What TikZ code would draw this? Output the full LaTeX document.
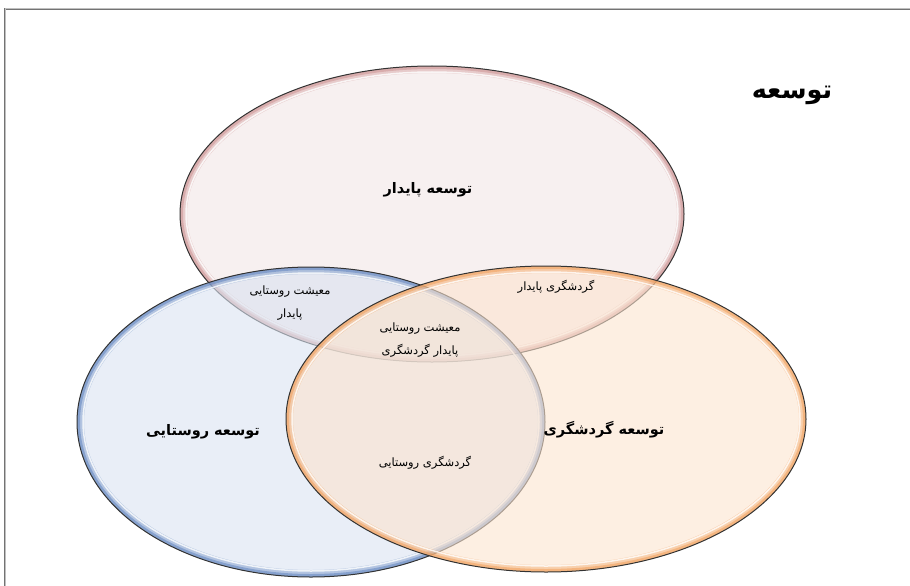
\documentclass[tikz,border=0pt]{standalone}
\usepackage{fontspec}
\usepackage{tikz}
\newfontfamily\arabicfont[Script=Arabic]{DejaVu Sans}
\TeXXeTstate=1
\definecolor{pinkfill}{RGB}{242,230,230}
\definecolor{bluefill}{RGB}{218,227,241}
\definecolor{orangefill}{RGB}{252,228,207}
\definecolor{pinkring}{RGB}{200,135,135}
\definecolor{bluering}{RGB}{80,120,185}
\definecolor{orangering}{RGB}{240,150,75}
\newcommand{\ar}[1]{\beginR #1\endR}

\begin{document}
\begin{tikzpicture}[
		x=1pt, y=-1pt,
		frame/.style = {draw=gray!90!black, double=gray!50, double distance=1pt, line width=.9pt},
		big/.style = {font=\arabicfont\bfseries\fontsize{14.5}{17}\selectfont},% set names
		small/.style = {font=\arabicfont\fontsize{11.5}{23.5}\selectfont, align=center},% overlaps
		]
		\useasboundingbox (0,0) rectangle (910,586);
		\draw[frame] (5,600) |- (920,9);
		% the three sets: centre / radii / colour
		\foreach \cx/\cy/\rx/\ry/\c in {432/214/252/148/pink, 311/422/234/155/blue, 546/419/260/153/orange}{
			\fill[\c fill, fill opacity=.6] (\cx,\cy) ellipse [x radius=\rx pt, y radius=\ry pt];
			\begin{scope}
				\clip (\cx,\cy) ellipse [x radius=\rx pt, y radius=\ry pt];
				\draw[\c ring, line width=14pt, opacity=.35] (\cx,\cy) ellipse [x radius=\rx pt, y radius=\ry pt];
				\draw[\c ring, line width=6pt, opacity=.45] (\cx,\cy) ellipse [x radius=\rx pt, y radius=\ry pt];
				\draw[white, line width=1.5pt, opacity=.8] (\cx,\cy) ellipse [x radius=\rx pt-6pt, y radius=\ry pt-6pt];
			\end{scope}
			\draw[black!80, line width=1pt] (\cx,\cy) ellipse [x radius=\rx pt, y radius=\ry pt];
		}
		\node[font=\arabicfont\bfseries\fontsize{25.5}{30}\selectfont] (title) at (792,95) {\ar{توسعه}};
		\node[big] (sustain) at (428,190) {\ar{توسعه پایدار}};
		\node[big] (rural) at (203,432) {\ar{توسعه روستایی}};
		\node[big] (tourism) at (604,430) {\ar{توسعه گردشگری}};
		\node[small] (livelihood) at (290,303) {\ar{معیشت روستایی}\\\ar{پایدار}};
		\node[small] (centre) at (420,340) {\ar{معیشت روستایی}\\\ar{پایدار گردشگری}};
		\node[small] (susttour) at (556,287) {\ar{گردشگری پایدار}};
		\node[small] (ruraltour) at (425,463) {\ar{گردشگری روستایی}};
	\end{tikzpicture}
\end{document}
